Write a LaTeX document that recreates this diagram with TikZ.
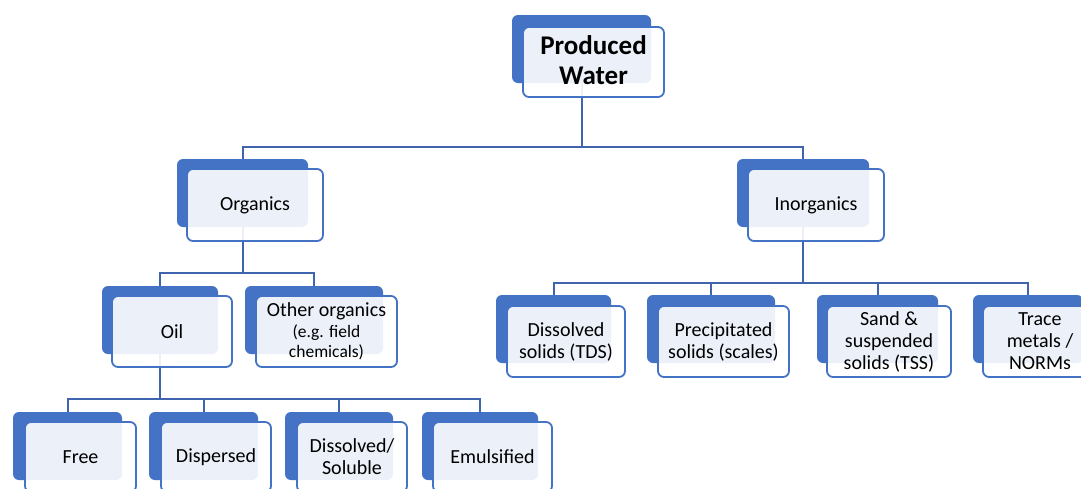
\documentclass[tikz,border=0pt]{standalone}
\usepackage{fontspec}
\setmainfont{Carlito}
\usetikzlibrary{fit}
\definecolor{accent}{HTML}{4472C4}
\definecolor{linkblue}{HTML}{3F65AE}
\begin{document}
\begin{tikzpicture}[x=1pt,y=-1pt,
  back/.style={fill=accent, rounded corners=6pt, inner sep=0pt},
  front/.style={draw=accent, line width=1.8pt, rounded corners=6pt, fill=white,
    fill opacity=0.9, inner sep=0pt},
  txt/.style={align=center, inner sep=0pt, font=\fontsize{20}{22}\selectfont},
  title/.style={font=\fontsize{27}{30}\selectfont\bfseries},
  link/.style={draw=linkblue, line width=2pt}
]
\useasboundingbox (0,0) rectangle (1081,488);
\clip (0,0) rectangle (1081,488);
\fill[white] (0,0) rectangle (1081,488);

% back boxes
\node[back, fit={(512,15) (651,83)}] (pw) {};
\node[back, fit={(177,159) (308,227)}] (org) {};
\node[back, fit={(737,159) (869,227)}] (inorg) {};
\node[back, fit={(102,286) (218,354)}] (oil) {};
\node[back, fit={(245,286) (383,354)}] (other) {};
\node[back, fit={(496,295) (611,363)}] (tds) {};
\node[back, fit={(647,295) (775,363)}] (prec) {};
\node[back, fit={(817,295) (938,363)}] (sand) {};
\node[back, fit={(973,295) (1083,363)}] (trace) {};
\node[back, fit={(13,412) (122,480)}] (free) {};
\node[back, fit={(149,412) (258,480)}] (disp) {};
\node[back, fit={(285,412) (393,480)}] (sol) {};
\node[back, fit={(422,412) (538,480)}] (emul) {};

% connectors
\coordinate (j1) at (pw.south |- 0,147);
\coordinate (j2) at (org.south |- 0,273);
\coordinate (j3) at (inorg.south |- 0,283);
\coordinate (j4) at (oil.south |- 0,399);
\draw[link] (pw.south) -- (j1);
\draw[link] (org.north) |- (j1) -| (inorg.north);
\draw[link] (org.south) -- (j2);
\draw[link] (oil.north) |- (j2) -| (other.north);
\draw[link] (inorg.south) -- (j3);
\draw[link] (tds.north) |- (j3) -| (trace.north);
\draw[link] (prec.north) |- (j3);
\draw[link] (sand.north) |- (j3);
\draw[link] (oil.south) -- (j4);
\draw[link] (free.north) |- (j4) -| (emul.north);
\draw[link] (disp.north) |- (j4);
\draw[link] (sol.north) |- (j4);

% front boxes
\node[front, fit={(523,27) (664,97)}] (pwf) {};
\node[front, fit={(187,169) (323,241)}] (orgf) {};
\node[front, fit={(748,169) (884,241)}] (inorgf) {};
\node[front, fit={(112,296) (232,367)}] (oilf) {};
\node[front, fit={(256,296) (397,367)}] (otherf) {};
\node[front, fit={(507,306) (625,377)}] (tdsf) {};
\node[front, fit={(658,306) (789,377)}] (precf) {};
\node[front, fit={(827,306) (951,377)}] (sandf) {};
\node[front, fit={(983,306) (1097,377)}] (tracef) {};
\node[front, fit={(25,422) (136,492)}] (freef) {};
\node[front, fit={(161,422) (271,492)}] (dispf) {};
\node[front, fit={(297,422) (407,492)}] (solf) {};
\node[front, fit={(433,422) (552,492)}] (emulf) {};

% texts
\node[txt, title] (pwt) at ([yshift=2pt]pwf.center) {Produced\\Water};
\node[txt] (orgt) at (orgf) {Organics};
\node[txt] (inorgt) at (inorgf) {Inorganics};
\node[txt] (oilt) at (oilf) {Oil};
\node[txt] (othert) at (otherf) {Other organics\\[-1pt]{\fontsize{17.5}{19}\selectfont (e.g. field}\\[-2pt]{\fontsize{17.5}{19}\selectfont chemicals)}};
\node[txt] (tdst) at (tdsf) {Dissolved\\solids (TDS)};
\node[txt] (prect) at (precf) {Precipitated\\solids (scales)};
\node[txt] (sandt) at (sandf) {Sand \&\\suspended\\solids (TSS)};
\node[txt] (tracet) at (tracef) {Trace\\metals /\\NORMs};
\node[txt] (freet) at (freef) {Free};
\node[txt] (dispt) at (dispf) {Dispersed};
\node[txt] (solt) at (solf) {Dissolved/\\Soluble};
\node[txt] (emult) at (emulf) {Emulsified};
\end{tikzpicture}
\end{document}
